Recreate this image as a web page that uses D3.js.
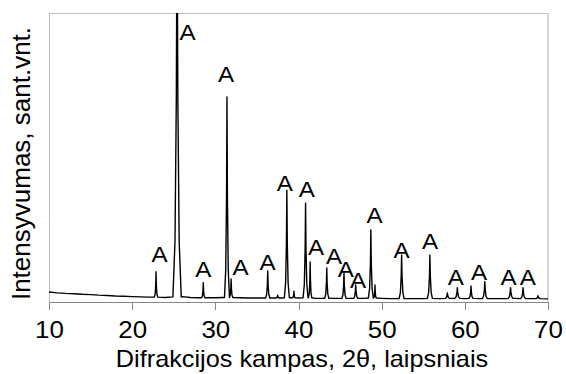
<!DOCTYPE html>
<meta charset="utf-8">
<style>
body {
  margin: 0;
  background-color: #fff;
}
text {
  font-family: "Liberation Sans", Arial, sans-serif;
  fill: #000;
}
.axis path,
.axis line {
  fill: none;
  stroke: #868686;
  stroke-width: 1px;
  shape-rendering: crispEdges;
}
.axis text {
  font-size: 24px;
}
.trace {
  fill: none;
  stroke: #000;
  stroke-width: 1.4px;
  stroke-linejoin: round;
}
.peakLabel {
  font-size: 22px;
}
</style>
<svg class="xrd" width="566" height="374"></svg>

<script src="https://cdn.jsdelivr.net/npm/d3@7"></script>
<script>
// 2theta ticks
var thetaTicks = [10, 20, 30, 40, 50, 60, 70];

// background level, one value per degree
var baseTheta = [10, 11, 12, 13, 14, 15, 16, 17, 18, 19, 20, 21, 22, 23, 24, 25, 26, 27, 28, 29,
                 30, 31, 32, 33, 34, 35, 36, 37, 38, 39, 40, 41, 42, 43, 44, 45, 46, 47, 48, 49,
                 50, 51, 52, 53, 54, 55, 56, 57, 58, 59, 60, 61, 62, 63, 64, 65, 66, 67, 68, 69, 70];
var baseLevel = [33, 30, 28, 27, 25, 24, 22, 21, 19, 18, 17, 16, 15, 15, 14, 16, 17, 14, 13, 13,
                 13, 14, 14, 13, 12, 12, 12, 12, 12, 13, 12, 13, 11, 11, 11, 11, 11, 11, 11, 12,
                 11, 10, 10, 10, 10, 10, 11, 10, 11, 11, 10, 11, 10, 10, 10, 10, 11, 10, 10, 10, 9];

// reflections: position, peak top, half base width
var peakTheta  = [22.87, 25.40, 28.55, 31.40, 31.90, 36.30, 37.50, 38.60, 39.45, 40.85, 41.40, 43.40,
                  45.47, 46.88, 48.70, 49.20, 52.40, 55.80, 57.90, 59.10, 60.74, 62.40, 65.50, 67.00, 68.80];
var peakTop    = [103, 1400, 65, 709, 78, 106, 22, 386, 36, 341, 137, 116,
                  99, 57, 248, 57, 161, 161, 30, 48, 54, 69, 48, 48, 20];
var peakHalf   = [0.20, 0.50, 0.20, 0.30, 0.20, 0.25, 0.20, 0.30, 0.15, 0.30, 0.20, 0.25,
                  0.25, 0.25, 0.30, 0.15, 0.30, 0.30, 0.25, 0.30, 0.25, 0.30, 0.30, 0.30, 0.30];

// "A" annotations (anatase)
var labelTheta = [23.29, 26.65, 28.55, 31.28, 33.02, 36.27, 38.34, 41.00, 42.10, 44.27,
                  45.69, 47.15, 49.16, 52.38, 55.81, 58.91, 61.70, 65.27, 67.57];
var labelLevel = [138, 906, 84, 762, 92, 109, 384, 362, 161, 130,
                  86, 47, 273, 150, 181, 57, 75, 57, 57];

var xTitle = "Difrakcijos kampas, 2\u03b8, laipsniais";
var yTitle = "Intensyvumas, sant.vnt.";

var svg = d3.select(".xrd"),
    margin = {top: 13, right: 18, bottom: 72.5, left: 49},
    width = 566 - margin.left - margin.right,
    height = 374 - margin.top - margin.bottom;

var x = d3.scaleLinear().domain([10, 70]).range([0, width]);
var y = d3.scaleLinear().domain([0, 1000]).range([height, 0]);

var g = svg.append("g")
    .attr("transform", "translate(" + margin.left + "," + margin.top + ")");

g.append("clipPath").attr("id", "plotClip")
  .append("rect")
    .attr("width", width)
    .attr("height", height);

// frame
g.append("line").attr("x1", 0.5).attr("x2", 0.5).attr("y1", 0).attr("y2", height)
    .style("stroke", "#bfbfbf");
g.append("line").attr("x1", 0).attr("x2", width).attr("y1", 0.5).attr("y2", 0.5)
    .style("stroke", "#bfbfbf");
g.append("line").attr("x1", width).attr("x2", width).attr("y1", 0).attr("y2", height)
    .style("stroke", "#d6d6d6").style("stroke-width", 2);

// build the trace: background points away from peaks, plus a spike per peak
function bgAt(t) {
  var i = Math.max(0, Math.min(baseTheta.length - 1, Math.round(t) - 10));
  return baseLevel[i];
}
var shape = [[-1, 0], [-0.5, 0.14], [-0.18, 0.5], [0, 1], [0.18, 0.5], [0.5, 0.14], [1, 0]];
var pts = [];
baseTheta.forEach(function(t, i) {
  var inside = peakTheta.some(function(p, k) { return Math.abs(t - p) < peakHalf[k]; });
  if (!inside) pts.push({t: t, v: baseLevel[i]});
});
peakTheta.forEach(function(p, k) {
  var b = bgAt(p);
  shape.forEach(function(s) {
    pts.push({t: p + s[0] * peakHalf[k], v: b + s[1] * (peakTop[k] - b)});
  });
});
pts.sort(function(a, b) { return a.t - b.t; });

var line = d3.line()
    .x(function(d) { return x(d.t); })
    .y(function(d) { return y(d.v); });

g.append("path")
    .datum(pts)
    .attr("class", "trace")
    .attr("clip-path", "url(#plotClip)")
    .attr("d", line);

// x axis
var xAxis = g.append("g")
    .attr("class", "x axis")
    .attr("transform", "translate(0," + height + ")")
    .call(d3.axisBottom(x).tickValues(thetaTicks).tickSizeInner(8).tickSizeOuter(0).tickPadding(11));
xAxis.selectAll("text")
    .attr("transform", "scale(1.08,1)")
    .attr("x", 0);

// peak labels
g.selectAll(".peakLabel")
    .data(labelTheta)
  .enter().append("text")
    .attr("class", "peakLabel")
    .attr("text-anchor", "middle")
    .attr("transform", function(d, i) {
      return "translate(" + x(d) + "," + y(labelLevel[i]) + ") scale(1.1,1)";
    })
    .text("A");

// axis titles
svg.append("text")
    .attr("text-anchor", "middle")
    .attr("transform", "translate(302,367) scale(1.1,1)")
    .style("font-size", "23px")
    .text(xTitle);

svg.append("text")
    .attr("text-anchor", "middle")
    .attr("transform", "translate(30,163.5) rotate(-90)")
    .style("font-size", "26px")
    .text(yTitle);
</script>
